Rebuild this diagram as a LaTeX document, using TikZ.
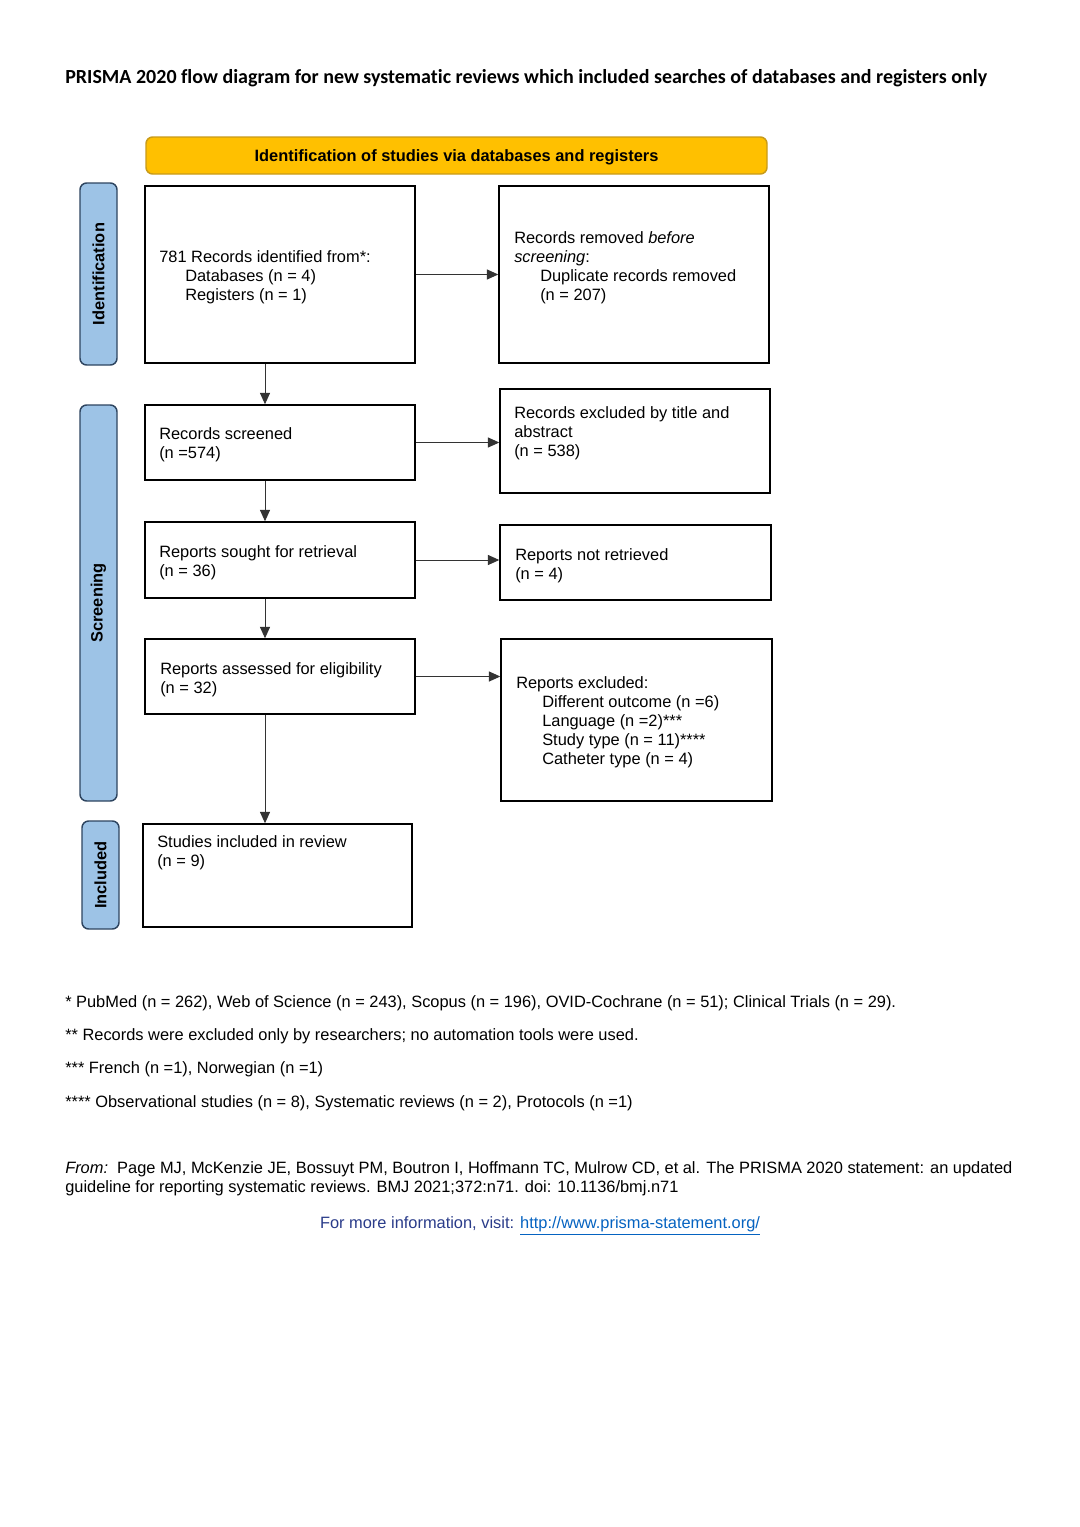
\documentclass[tikz,border=0pt]{standalone}
\usepackage{fontspec}
\setmainfont{Liberation Sans}
\newfontfamily\titlefont[Ligatures=NoCommon]{Carlito}
\usetikzlibrary{arrows.meta,fit}
\definecolor{yel}{HTML}{FFC000}
\definecolor{yelb}{HTML}{C89B1A}
\definecolor{bluef}{HTML}{9DC3E6}
\definecolor{blueb}{HTML}{2E4560}
\definecolor{arrowc}{HTML}{333333}
\definecolor{infoc}{HTML}{2A3C8A}
\definecolor{linkc}{HTML}{0563C1}
\begin{document}
\begin{tikzpicture}[x=0.75pt,y=-0.75pt,
  boxs/.style={draw=black,line width=1.1pt,inner sep=0pt,fill=none},
  sidebar/.style={draw=blueb,fill=bluef,line width=1.1pt,rounded corners=5pt,inner sep=0pt},
  sidetxt/.style={rotate=90,font=\fontsize{12.3}{14}\selectfont\bfseries,inner sep=0pt},
  txt/.style={align=left,inner sep=0pt,anchor=west,yshift=-1.5pt,font=\fontsize{12.3}{14.25}\selectfont},
  note/.style={align=left,inner sep=0pt,anchor=west,yshift=-1.5pt,font=\fontsize{12.3}{14.25}\selectfont},
  arr/.style={draw=arrowc,line width=0.75pt,-{Triangle[length=8.5pt,width=7.5pt]}}]
\useasboundingbox[fill=white] (0,0) rectangle (1080,1527);

% title
\node[anchor=west,inner sep=0pt,font=\titlefont\bfseries\fontsize{15}{17}\selectfont] (title) at (65,78)
  {PRISMA 2020 flow diagram for new systematic reviews which included searches of databases and registers only};

% header
\node[fit={(146,137) (767,174)},draw=yelb,fill=yel,line width=1.1pt,rounded corners=5pt,inner sep=0pt] (hdr) {};
\node[inner sep=0pt,yshift=-1.5pt,font=\fontsize{12.3}{14}\selectfont\bfseries] (hdrt) at (hdr.center) {Identification of studies via databases and registers};

% side bars
\node[fit={(80,183) (117,365)},sidebar] (sid) {};
\node[sidetxt] (sidt) at (sid.center) {Identification};
\node[fit={(80,405) (117,801)},sidebar] (sscr) {};
\node[sidetxt] (sscrt) at (sscr.center) {Screening};
\node[fit={(82,821) (119,929)},sidebar] (sinc) {};
\node[sidetxt] (sinct) at (sinc.center) {Included};

% boxes
\node[fit={(145,186) (415,363)},boxs] (b1) {};
\node[fit={(499,186) (769,363)},boxs] (b2) {};
\node[fit={(145,405) (415,480)},boxs] (b3) {};
\node[fit={(500,389) (770,493)},boxs] (b4) {};
\node[fit={(145,522) (415,598)},boxs] (b5) {};
\node[fit={(500,525) (771,600)},boxs] (b6) {};
\node[fit={(145,639) (415,714)},boxs] (b7) {};
\node[fit={(501,639) (772,801)},boxs] (b8) {};
\node[fit={(143,824) (412,927)},boxs] (b9) {};

% box texts
\node[txt] (t1) at (159,275) {781 Records identified from*:\\\hspace*{19.5pt}Databases (n = 4)\\\hspace*{19.5pt}Registers (n = 1)};
\node[txt] (t2) at (514,265.5) {Records removed \textit{before}\\\textit{screening}:\\\hspace*{19.5pt}Duplicate records removed\\\hspace*{19.5pt}(n = 207)};
\node[txt] (t3) at (159,442.5) {Records screened\\(n =574)};
\node[txt] (t4) at (514,431.5) {Records excluded by title and\\abstract\\(n = 538)};
\node[txt] (t5) at (159,561) {Reports sought for retrieval\\(n = 36)};
\node[txt] (t6) at (515,563.5) {Reports not retrieved\\(n = 4)};
\node[txt] (t7) at (160,677.5) {Reports assessed for eligibility\\(n = 32)};
\node[txt] (t8) at (516,720.5) {Reports excluded:\\\hspace*{19.5pt}Different outcome (n =6)\\\hspace*{19.5pt}Language (n =2)***\\\hspace*{19.5pt}Study type (n = 11)****\\\hspace*{19.5pt}Catheter type (n = 4)};
\node[txt] (t9) at (157,850.5) {Studies included in review\\(n = 9)};

% connectors
\coordinate (col) at (265,0);
\draw[arr] (b1.east) -- (b1.east -| b2.west);
\draw[arr] (b3.east) -- (b3.east -| b4.west);
\draw[arr] (b5.east) -- (b5.east -| b6.west);
\draw[arr] (b7.east) -- (b7.east -| b8.west);
\draw[arr] (b1.south -| col) -- (b3.north -| col);
\draw[arr] (b3.south -| col) -- (b5.north -| col);
\draw[arr] (b5.south -| col) -- (b7.north -| col);
\draw[arr] (b7.south -| col) -- (b9.north -| col);

% footnotes
\node[note] (n1) at (65,1001) {* PubMed (n = 262), Web of Science (n = 243), Scopus (n = 196), OVID-Cochrane (n = 51); Clinical Trials (n = 29).};
\node[note] (n2) at (65,1034) {** Records were excluded only by researchers; no automation tools were used.};
\node[note] (n3) at (65,1067) {*** French (n =1), Norwegian (n =1)};
\node[note] (n4) at (65,1101) {**** Observational studies (n = 8), Systematic reviews (n = 2), Protocols (n =1)};
\node[note] (n5) at (65,1176.5) {\textit{From:}\ \ Page MJ, McKenzie JE, Bossuyt PM, Boutron I, Hoffmann TC, Mulrow CD, et al. The PRISMA 2020 statement: an updated\\guideline for reporting systematic reviews. BMJ 2021;372:n71. doi: 10.1136/bmj.n71};
\node[inner sep=0pt,yshift=-1.5pt,font=\fontsize{12.3}{14.25}\selectfont,text=infoc] (n6) at (540,1224) {For more information, visit: \textcolor{linkc}{\underline{http://www.prisma-statement.org/}}};
\end{tikzpicture}
\end{document}
